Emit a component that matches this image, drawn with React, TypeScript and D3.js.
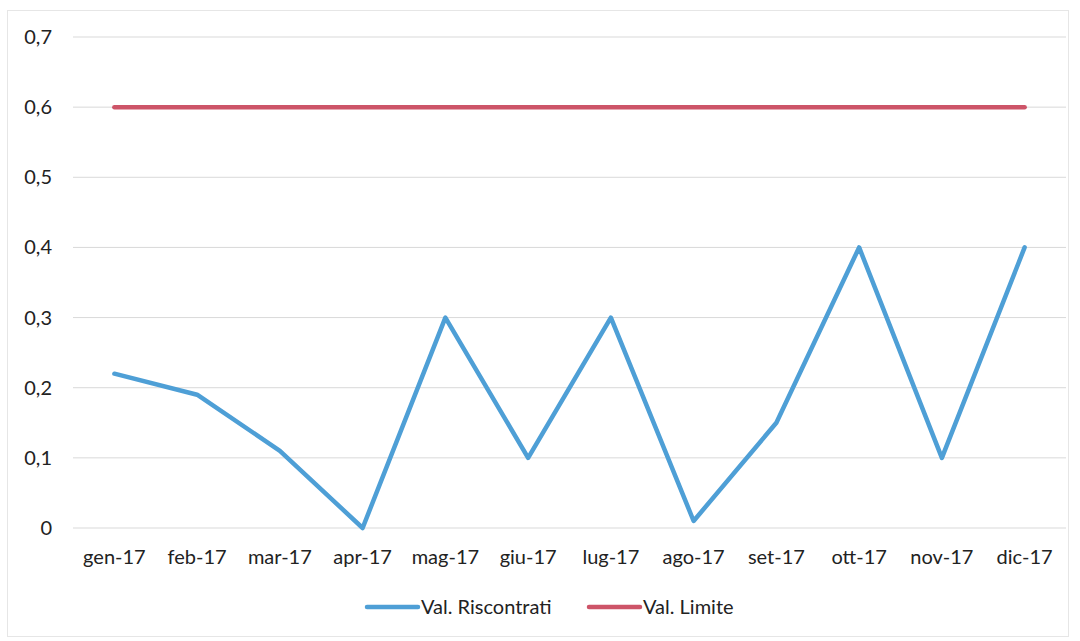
import React from "react";
import * as d3 from "d3";

const months = ["gen-17", "feb-17", "mar-17", "apr-17", "mag-17", "giu-17", "lug-17", "ago-17", "set-17", "ott-17", "nov-17", "dic-17"];
const valRiscontrati = [0.22, 0.19, 0.11, 0, 0.3, 0.1, 0.3, 0.01, 0.15, 0.4, 0.1, 0.4];
const valLimite = [0.6, 0.6, 0.6, 0.6, 0.6, 0.6, 0.6, 0.6, 0.6, 0.6, 0.6, 0.6];
const yTicks = [0, 0.1, 0.2, 0.3, 0.4, 0.5, 0.6, 0.7];

const W = 1080;
const H = 641;
const left = 73;
const right = 1066;
const top = 37;
const bottom = 528;
const FONT = "Lato, 'Open Sans', sans-serif";
const BLUE = "#4e9fd6";
const RED = "#cd5468";
const TEXT = "#222";

export default function App() {
  const x = d3.scaleBand<string>().domain(months).range([left, right]);
  const y = d3.scaleLinear().domain([0, 0.7]).range([bottom, top]);
  const cx = (m: string) => (x(m) ?? 0) + x.bandwidth() / 2;
  const line = d3
    .line<number>()
    .x((_, i) => cx(months[i]))
    .y((v) => y(v));
  const fmt = (v: number) => (v === 0 ? "0" : d3.format(".1f")(v).replace(".", ","));

  return (
    <svg width={W} height={H} style={{ position: "absolute", left: 0, top: 0, background: "#fff" }}>
      <rect x={7.5} y={10.5} width={1061} height={626} fill="none" stroke="#e6e6e6" strokeWidth={1} />
      {yTicks.map((t) => (
        <g key={t}>
          <line x1={left} x2={right} y1={y(t)} y2={y(t)} stroke="#d9d9d9" strokeWidth={1} />
          <text x={52} y={y(t)} dy="0.35em" textAnchor="end" fontFamily={FONT} fontSize={20} fill={TEXT}>
            {fmt(t)}
          </text>
        </g>
      ))}
      {months.map((m) => (
        <text key={m} x={cx(m)} y={564} textAnchor="middle" fontFamily={FONT} fontSize={20} fill={TEXT}>
          {m}
        </text>
      ))}
      <path d={line(valLimite) ?? ""} fill="none" stroke={RED} strokeWidth={4.5} strokeLinecap="round" strokeLinejoin="round" />
      <path d={line(valRiscontrati) ?? ""} fill="none" stroke={BLUE} strokeWidth={4.5} strokeLinecap="round" strokeLinejoin="round" />
      <g fontFamily={FONT} fontSize={20} fill={TEXT}>
        <line x1={367} x2={418} y1={607} y2={607} stroke={BLUE} strokeWidth={4.5} strokeLinecap="round" />
        <text x={421} y={607} dy="0.35em">Val. Riscontrati</text>
        <line x1={589} x2={640} y1={607} y2={607} stroke={RED} strokeWidth={4.5} strokeLinecap="round" />
        <text x={643} y={607} dy="0.35em">Val. Limite</text>
      </g>
    </svg>
  );
}
